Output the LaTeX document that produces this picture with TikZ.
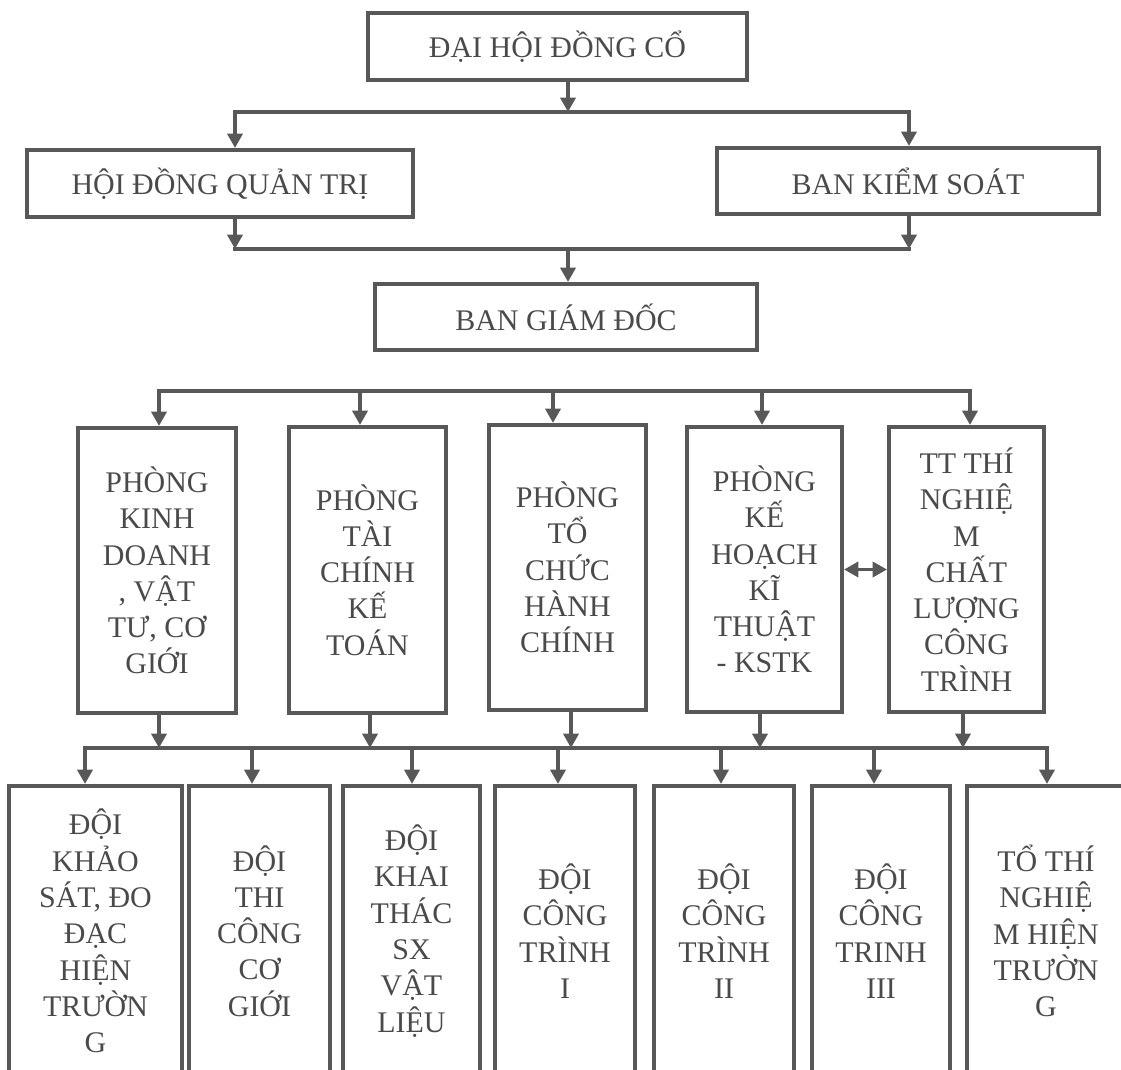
\documentclass[tikz,border=0pt]{standalone}
\usepackage{fontspec}
\setmainfont{Liberation Serif}
\usetikzlibrary{positioning,arrows.meta,calc}
\definecolor{ink}{HTML}{585858}
\definecolor{txt}{HTML}{4A4A4A}
\tikzset{
	>={Triangle[width=0.38cm,length=0.36cm]}
}

\begin{document}
\begin{tikzpicture}[
x = 0.025cm, y = -0.025cm,
every node/.style = {
	font = \fontsize{21.3}{25.8}\selectfont,
	text = txt,
	align = center
},
orgbox/.style 2 args = {
	draw = ink,
	line width = 2.9pt,
	inner sep = 0pt,
	minimum width = #1*0.025cm,
	minimum height = #2*0.025cm
},
busline/.style = {
	draw = ink,
	line width = 2.4pt,
	line cap = rect
},
feed/.style = {
	draw = ink,
	line width = 2.4pt,
	->
}
]
\useasboundingbox (0,0) rectangle (1121,1070);
\clip (0,0) rectangle (1121,1070);

\node (dhdc) [orgbox={379}{67}] at (557.5,46.5) {ĐẠI HỘI ĐỒNG CỔ};
\node (hdqt) [orgbox={386}{67}] at (220,183.5) {HỘI ĐỒNG QUẢN TRỊ};
\node (bks) [orgbox={382}{66}] at (908,181) {BAN KIỂM SOÁT};
\node (bgd) [orgbox={382}{66}] at (566,317) {BAN GIÁM ĐỐC};

\node (phong1) [orgbox={158}{285}] at (157,570.5) {PHÒNG\\KINH\\DOANH\\, VẬT\\TƯ, CƠ\\GIỚI};
\node (phong2) [orgbox={157}{286}] at (367.5,570) {PHÒNG\\TÀI\\CHÍNH\\KẾ\\TOÁN};
\node (phong3) [orgbox={157}{285}] at (567.5,567.5) {PHÒNG\\TỔ\\CHỨC\\HÀNH\\CHÍNH};
\node (phong4) [orgbox={155}{285}] at (764.5,569.5) {PHÒNG\\KẾ\\HOẠCH\\KĨ\\THUẬT\\- KSTK};
\node (phong5) [orgbox={155}{285}] at (966.5,569.5) {TT THÍ\\NGHIỆ\\M\\CHẤT\\LƯỢNG\\CÔNG\\TRÌNH};

\node (doi1) [orgbox={173}{290}] at (95.5,931) {ĐỘI\\KHẢO\\SÁT, ĐO\\ĐẠC\\HIỆN\\TRƯỜN\\G};
\node (doi2) [orgbox={141}{290}] at (259.5,931) {ĐỘI\\THI\\CÔNG\\CƠ\\GIỚI};
\node (doi3) [orgbox={137}{290}] at (411.5,931) {ĐỘI\\KHAI\\THÁC\\SX\\VẬT\\LIỆU};
\node (doi4) [orgbox={140}{290}] at (565,931) {ĐỘI\\CÔNG\\TRÌNH\\I};
\node (doi5) [orgbox={140}{290}] at (724,931) {ĐỘI\\CÔNG\\TRÌNH\\II};
\node (doi6) [orgbox={138}{290}] at (881,931) {ĐỘI\\CÔNG\\TRINH\\III};
\node (doi7) [orgbox={158}{290}] at (1046,931) {TỔ THÍ\\NGHIỆ\\M HIỆN\\TRƯỜN\\G};

% upper levels
\coordinate (bus1) at (568,112);
\coordinate (bus1l) at (235,112);
\coordinate (bus1r) at (909,112);
\draw[feed] (bus1 |- dhdc.south) -- (bus1);
\draw[busline] (bus1l) -- (bus1r);
\draw[feed] (bus1l) -- (bus1l |- hdqt.north);
\draw[feed] (bus1r) -- (bus1r |- bks.north);

\coordinate (bus2) at (568,249);
\coordinate (bus2l) at (235,249);
\coordinate (bus2r) at (909,249);
\draw[feed] (bus2l |- hdqt.south) -- (bus2l);
\draw[feed] (bus2r |- bks.south) -- (bus2r);
\draw[busline] (bus2l) -- (bus2r);
\draw[feed] (bus2) -- (bus2 |- bgd.north);

% phong
\coordinate (bus3l) at (159,391);
\coordinate (bus3r) at (970,391);
\draw[busline] (bus3l) -- (bus3r);
\foreach \i/\x in {1/159,2/360,3/553,4/762,5/970} {
	\coordinate (p\i) at (\x,391);
	\draw[feed] (p\i) -- (p\i |- phong\i.north);
}
\draw[feed, <->] (phong4) -- (phong5);

% doi
\coordinate (bus4l) at (85,748);
\coordinate (bus4r) at (1047,748);
\draw[busline] (bus4l) -- (bus4r);
\foreach \i/\x in {1/159,2/370,3/571,4/760,5/963} {
	\coordinate (q\i) at (\x,748);
	\draw[feed] (q\i |- phong\i.south) -- (q\i);
}
\foreach \i/\x in {1/85,2/252,3/412,4/558,5/721,6/874,7/1047} {
	\coordinate (r\i) at (\x,748);
	\draw[feed] (r\i) -- (r\i |- doi\i.north);
}

\end{tikzpicture}
\end{document}
